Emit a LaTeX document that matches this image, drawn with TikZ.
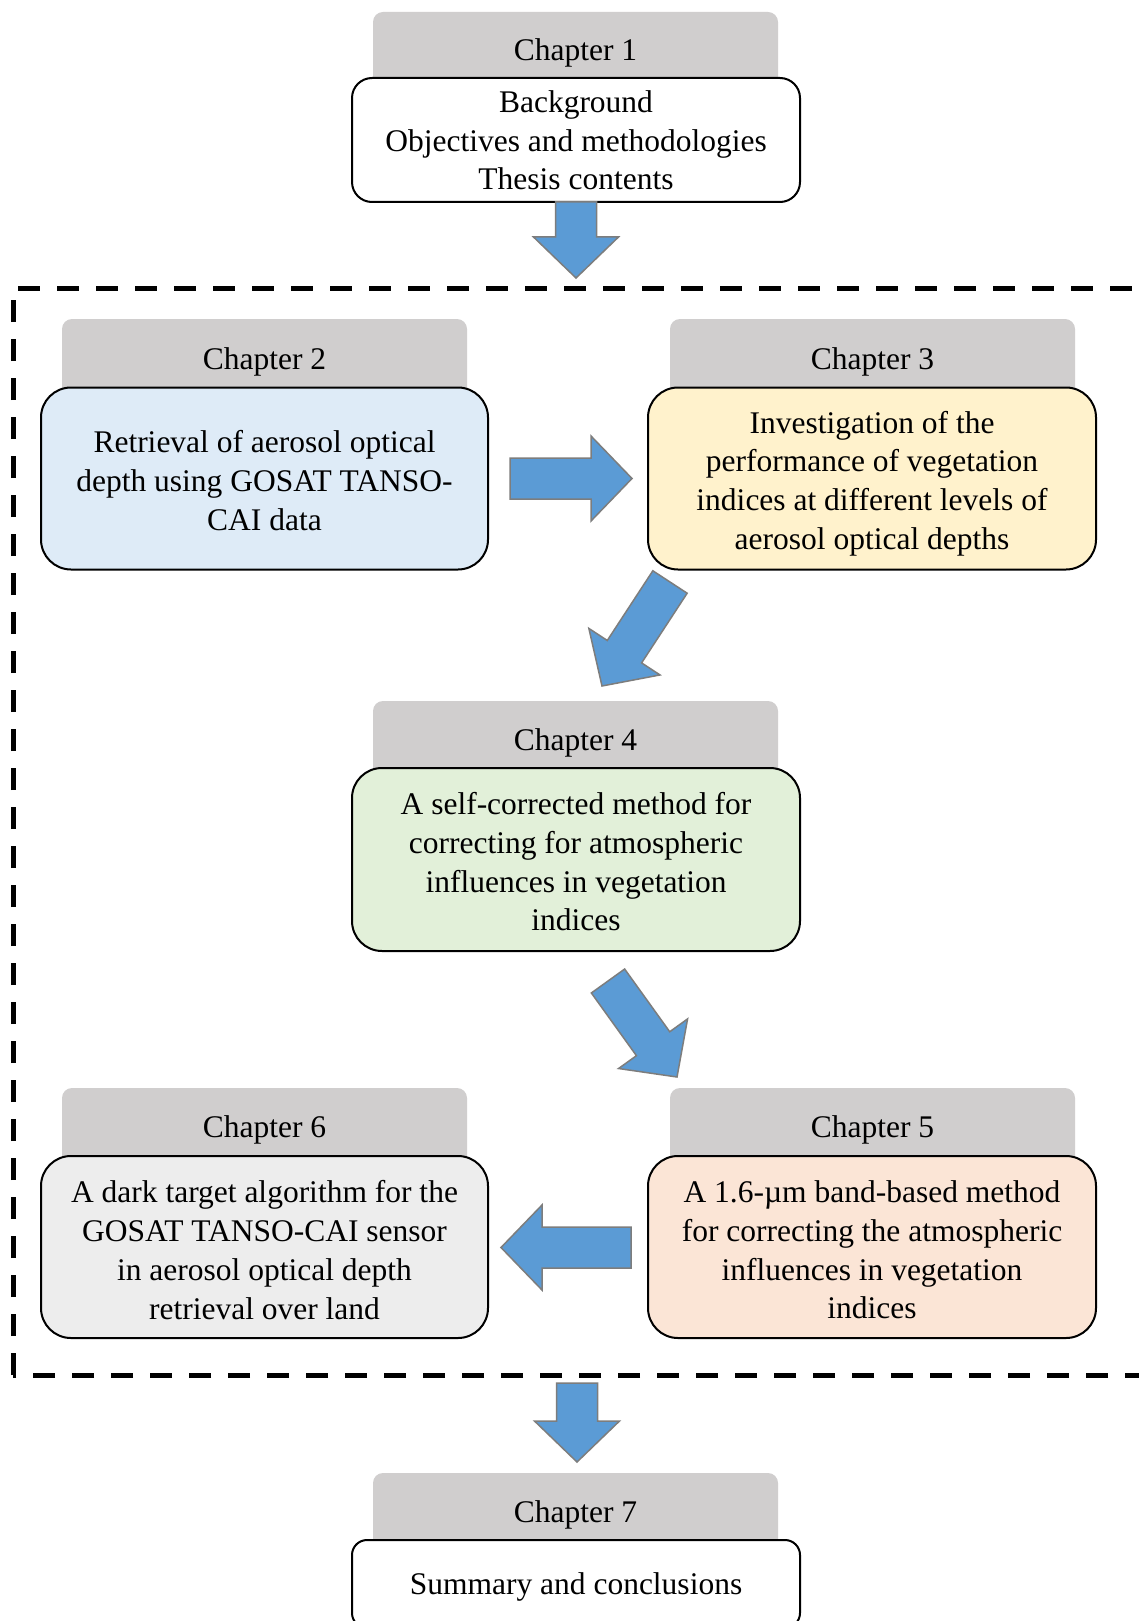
\documentclass[tikz,border=0pt]{standalone}
\usepackage{fontspec}
\setmainfont{Liberation Serif}
\usetikzlibrary{calc}
\definecolor{tabgray}{RGB}{208,206,206}
\definecolor{fillA}{RGB}{222,235,247}
\definecolor{fillB}{RGB}{255,242,204}
\definecolor{fillC}{RGB}{226,240,217}
\definecolor{fillD}{RGB}{251,229,214}
\definecolor{fillE}{RGB}{237,237,237}
\definecolor{arrowblue}{RGB}{91,155,213}
\definecolor{arrowgray}{RGB}{125,125,125}
\newcommand\chfont{\fontsize{31.5pt}{38.7pt}\selectfont}
\newcommand\blockarr[2]{%
  \coordinate (nk) at ($(#2)!41pt!(#1)$);
  \filldraw[barrow]
    ($(#1)!20.5pt!90:(#2)$) -- ($(nk)!20.5pt!90:(#2)$) -- ($(nk)!42.5pt!90:(#2)$)
    -- (#2) -- ($(nk)!42.5pt!-90:(#2)$) -- ($(nk)!20.5pt!-90:(#2)$)
    -- ($(#1)!20.5pt!-90:(#2)$) -- cycle;
}
\tikzset{
  tabshape/.style={fill=tabgray, rounded corners=10pt, minimum width=405pt, inner sep=0pt},
  tabtext/.style={inner sep=0pt, font=\chfont},
  chbox/.style={draw=black, line width=2pt, rounded corners=30pt, minimum width=447pt,
    minimum height=182pt, inner sep=0pt},
  boxtext/.style={inner sep=0pt, align=center, font=\chfont},
  barrow/.style={fill=arrowblue, draw=arrowgray, line width=1.5pt, line join=miter},
  frame/.style={line width=5pt, dash pattern=on 22pt off 17pt},
}
\begin{document}
\begin{tikzpicture}[x=1pt,y=-1pt]
\useasboundingbox (0,0) rectangle (1139,1621);
\clip (0,0) rectangle (1139,1621);
\fill[white] (0,0) rectangle (1139,1621);

% dashed frame
\draw[frame] (13,1375) -- (13,288) -- (1170,288) -- (1170,1375) -- cycle;

% Chapter 1
\node[tabshape, minimum height=86pt] (tab1) at (575.5,55) {};
\node[tabtext] (lab1) at (575.5,52.5) {Chapter 1};
\node[chbox, minimum width=448pt, minimum height=124pt, rounded corners=20pt, fill=white] (box1) at (576,140) {};
\node[boxtext] (txt1) at (576,140.5) {Background\\Objectives and methodologies\\Thesis contents};

% Chapter 2
\node[tabshape, minimum height=89pt] (tab2) at (264.5,363.5) {};
\node[tabtext] (lab2) at (264.5,361.5) {Chapter 2};
\node[chbox, fill=fillA] (box2) at (264.5,478.5) {};
\node[boxtext] (txt2) at (264.5,480.5) {Retrieval of aerosol optical\\depth using GOSAT TANSO-\\CAI data};

% Chapter 3
\node[tabshape, minimum height=89pt] (tab3) at (872.5,363.5) {};
\node[tabtext] (lab3) at (872.5,361.5) {Chapter 3};
\node[chbox, minimum width=448pt, fill=fillB] (box3) at (872,478.5) {};
\node[boxtext] (txt3) at (872,483.5) {Investigation of the\\performance of vegetation\\indices at different levels of\\aerosol optical depths};

% Chapter 4
\node[tabshape, minimum height=87pt] (tab4) at (575.5,744.5) {};
\node[tabtext] (lab4) at (575.5,742.5) {Chapter 4};
\node[chbox, minimum width=448pt, minimum height=183pt, fill=fillC] (box4) at (576,859.5) {};
\node[boxtext] (txt4) at (576,862) {A self-corrected method for\\correcting for atmospheric\\influences in vegetation\\indices};

% Chapter 5
\node[tabshape, minimum height=88pt] (tab5) at (872.5,1132) {};
\node[tabtext] (lab5) at (872.5,1130) {Chapter 5};
\node[chbox, minimum width=448pt, fill=fillD] (box5) at (872,1247) {};
\node[boxtext] (txt5) at (872,1250) {A 1.6-µm band-based method\\for correcting the atmospheric\\influences in vegetation\\indices};

% Chapter 6
\node[tabshape, minimum height=88pt] (tab6) at (264.5,1132) {};
\node[tabtext] (lab6) at (264.5,1130) {Chapter 6};
\node[chbox, fill=fillE] (box6) at (264.5,1247) {};
\node[boxtext] (txt6) at (264.5,1250) {A dark target algorithm for the\\GOSAT TANSO-CAI sensor\\in aerosol optical depth\\retrieval over land};

% Chapter 7
\node[tabshape, minimum height=87pt] (tab7) at (575.5,1516.5) {};
\node[tabtext] (lab7) at (575.5,1514.5) {Chapter 7};
\node[chbox, minimum width=448pt, minimum height=88pt, rounded corners=15pt, fill=white] (box7) at (576,1584) {};
\node[boxtext] (txt7) at (576,1587) {Summary and conclusions};

% block arrows
\coordinate (a1t) at (576,202);  \coordinate (a1h) at (576,278);
\coordinate (a2t) at (510,478.5); \coordinate (a2h) at (632,478.5);
\coordinate (a3t) at (670,582);  \coordinate (a3h) at (602,686);
\coordinate (a4t) at (608,981);  \coordinate (a4h) at (677,1077);
\coordinate (a5t) at (631,1247.5); \coordinate (a5h) at (501,1247.5);
\coordinate (a6t) at (577,1383); \coordinate (a6h) at (577,1462);
\blockarr{a1t}{a1h}
\blockarr{a2t}{a2h}
\blockarr{a3t}{a3h}
\blockarr{a4t}{a4h}
\blockarr{a5t}{a5h}
\blockarr{a6t}{a6h}
\end{tikzpicture}
\end{document}
